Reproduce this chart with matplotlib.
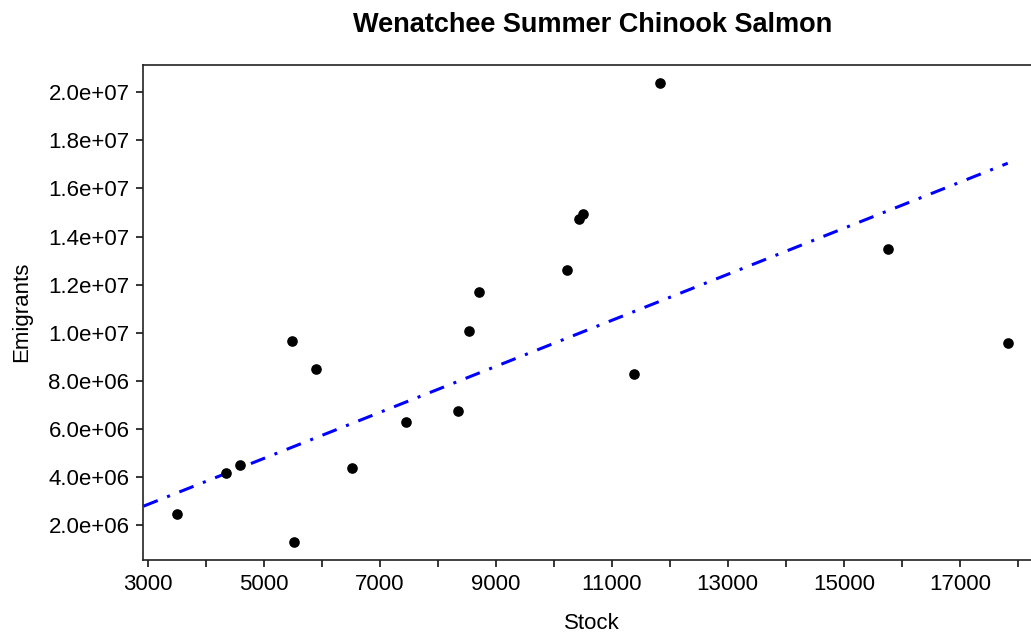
import matplotlib
matplotlib.use('Agg')
from matplotlib import pyplot as plt
from matplotlib.ticker import FuncFormatter, FixedLocator

# data
stock = [3499, 4343, 4601, 5497, 5531, 5910, 6530, 7460, 8356, 8545,
         8717, 10233, 10440, 10508, 11386, 11834, 15760, 17827]
emigrants = [2.47e6, 4.18e6, 4.51e6, 9.64e6, 1.30e6, 8.47e6, 4.35e6, 6.30e6,
             6.76e6, 10.05e6, 11.68e6, 12.60e6, 14.72e6, 14.93e6, 8.30e6,
             20.39e6, 13.47e6, 9.55e6]

# fitted line end points
fit_x = [2930, 17827]
fit_y = [2.78e6, 17.05e6]

x_ticks = list(range(3000, 19000, 1000))
x_labels = [str(v) if (v // 1000) % 2 == 1 else '' for v in x_ticks]
y_ticks = [2e6, 4e6, 6e6, 8e6, 1e7, 1.2e7, 1.4e7, 1.6e7, 1.8e7, 2e7]

plt.rcParams['font.family'] = ['Liberation Sans', 'DejaVu Sans']

W, H = 1031, 633
fig = plt.figure(figsize=(W / 100, H / 100), dpi=100)
ax = fig.add_axes([143.3 / W, 1 - 560 / H, (1041 - 143.3) / W, (560 - 64.7) / H])

ax.plot(fit_x, fit_y, color='#0000ff', linewidth=2.2,
        linestyle=(0, (5, 3.3, 1, 3.3)), zorder=2)
ax.scatter(stock, emigrants, s=44, color='black', zorder=3)

ax.set_xlim(2926, 18400)
ax.set_ylim(0.54e6, 21.15e6)

ax.xaxis.set_major_locator(FixedLocator(x_ticks))
ax.set_xticklabels(x_labels)
ax.yaxis.set_major_locator(FixedLocator(y_ticks))
ax.yaxis.set_major_formatter(FuncFormatter(
    lambda v, p: '%.1e' % v))

ax.tick_params(direction='out', length=5, width=1.1, labelsize=16,
               pad=5, colors='black')
for s in ax.spines.values():
    s.set_linewidth(1.2)
    s.set_color('#222222')

ax.set_xlabel('Stock', fontsize=16, labelpad=13)
fig.text(22 / W, 1 - 312 / H, 'Emigrants', rotation=90, fontsize=16,
         ha='center', va='center')
fig.text((143.3 + 1041) / 2 / W, 1 - 25 / H, 'Wenatchee Summer Chinook Salmon',
         fontsize=19.5, fontweight='bold', ha='center', va='center')

fig.savefig('out.png', dpi=100)
